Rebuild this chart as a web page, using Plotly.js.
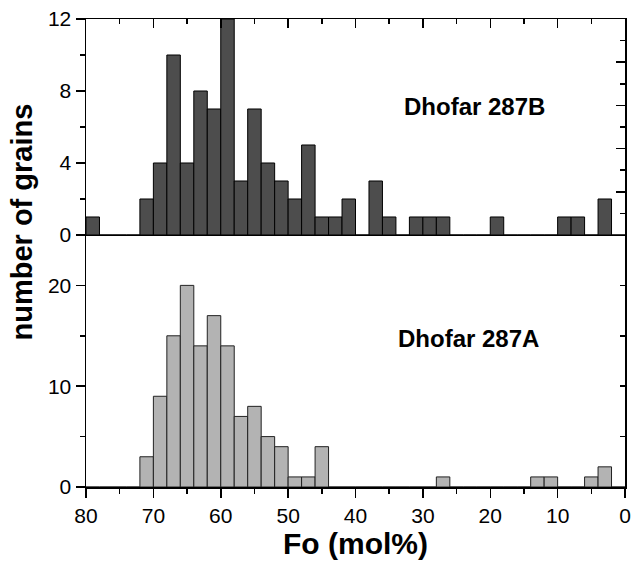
<!DOCTYPE html>
<html>
<head>
<meta charset="utf-8">
<script src="https://cdn.plot.ly/plotly-3.0.1.min.js"></script>
<style>html,body{margin:0;padding:0;background:#fff;}</style>
</head>
<body>
<div id="chart" style="width:631px;height:564px;"></div>
<script>
// Bin centres (Fo mol%), bins of width 2 from 80 down to 0
const binCenters = [79,77,75,73,71,69,67,65,63,61,59,57,55,53,51,49,47,45,43,41,
                    39,37,35,33,31,29,27,25,23,21,19,17,15,13,11,9,7,5,3,1];
// Dhofar 287B counts
const countsB = [1,0,0,0,2,4,10,4,8,7,12,3,7,4,3,2,5,1,1,2,
                 0,3,1,0,1,1,1,0,0,0,1,0,0,0,0,1,1,0,2,0];
// Dhofar 287A counts
const countsA = [0,0,0,0,3,9,15,20,14,17,14,7,8,5,4,1,1,4,0,0,
                 0,0,0,0,0,0,1,0,0,0,0,0,0,1,1,0,0,1,2,0];
const binWidth = 2;
const labelB = 'Dhofar 287B';
const labelA = 'Dhofar 287A';

const widths = binCenters.map(() => binWidth);
const font = 'Liberation Sans, Arial, sans-serif';

const traces = [
  {type:'bar', x:binCenters, y:countsB, width:widths, xaxis:'x2', yaxis:'y2',
   marker:{color:'#4d4d4d', line:{color:'#000', width:1}}, hoverinfo:'x+y'},
  {type:'bar', x:binCenters, y:countsA, width:widths, xaxis:'x', yaxis:'y',
   marker:{color:'#b3b3b3', line:{color:'#222', width:1}}, hoverinfo:'x+y'},
  {type:'scatter', x:[], y:[], xaxis:'x3', yaxis:'y2', showlegend:false},
  {type:'scatter', x:[], y:[], xaxis:'x', yaxis:'y3', showlegend:false},
  {type:'scatter', x:[], y:[], xaxis:'x2', yaxis:'y4', showlegend:false}
];

const split = 0.5385;
const axLine = {showline:true, linecolor:'#000', linewidth:1.5, zeroline:false, showgrid:false};

const layout = {
  width:631, height:564,
  margin:{l:86, r:6, t:19, b:77},
  paper_bgcolor:'#fff', plot_bgcolor:'#fff',
  showlegend:false, bargap:0,
  font:{family:font, color:'#000', size:21},
  xaxis:Object.assign({}, axLine, {
    domain:[0,1], anchor:'y', range:[80,0], tickmode:'linear', tick0:0, dtick:10,
    ticks:'outside', ticklen:9, tickwidth:1.5, tickcolor:'#000',
    minor:{dtick:5, tick0:0, ticks:'outside', ticklen:5, tickwidth:1.5, tickcolor:'#000', showgrid:false},
    tickfont:{size:21, family:font},
    title:{text:'<b>Fo (mol%)</b>', font:{size:30, family:font}, standoff:4}
  }),
  xaxis2:Object.assign({}, axLine, {
    domain:[0,1], anchor:'y2', range:[80,0], ticks:'', showticklabels:false
  }),
  xaxis3:Object.assign({}, axLine, {
    domain:[0,1], anchor:'y2', overlaying:'x2', side:'top', range:[80,0],
    tickmode:'linear', tick0:0, dtick:10, ticks:'inside', ticklen:9, tickwidth:1.5, tickcolor:'#000',
    minor:{dtick:5, tick0:0, ticks:'inside', ticklen:5, tickwidth:1.5, tickcolor:'#000', showgrid:false},
    showticklabels:false
  }),
  yaxis:Object.assign({}, axLine, {
    domain:[0, split], anchor:'x', range:[0,25], tickmode:'linear', tick0:0, dtick:10,
    ticks:'outside', ticklen:9, tickwidth:1.5, tickcolor:'#000',
    minor:{dtick:5, tick0:0, ticks:'outside', ticklen:5, tickwidth:1.5, tickcolor:'#000', showgrid:false},
    tickfont:{size:21, family:font}
  }),
  yaxis2:Object.assign({}, axLine, {
    domain:[split, 1], anchor:'x2', range:[0,12], tickmode:'linear', tick0:0, dtick:4,
    ticks:'outside', ticklen:9, tickwidth:1.5, tickcolor:'#000',
    minor:{dtick:2, tick0:0, ticks:'outside', ticklen:5, tickwidth:1.5, tickcolor:'#000', showgrid:false},
    tickfont:{size:21, family:font}
  }),
  yaxis3:Object.assign({}, axLine, {
    overlaying:'y', side:'right', anchor:'x', range:[0,25], tickmode:'linear', tick0:0, dtick:5,
    ticks:'inside', ticklen:5, tickwidth:1.5, tickcolor:'#000', showticklabels:false
  }),
  yaxis4:Object.assign({}, axLine, {
    overlaying:'y2', side:'right', anchor:'x2', range:[0,10], tickmode:'linear', tick0:0, dtick:2,
    ticks:'inside', ticklen:9, tickwidth:1.5, tickcolor:'#000',
    minor:{dtick:1, tick0:0, ticks:'inside', ticklen:5, tickwidth:1.5, tickcolor:'#000', showgrid:false},
    showticklabels:false
  }),
  annotations:[
    {text:'<b>'+labelB+'</b>', xref:'x2', yref:'y2', x:22.4, y:7.15, showarrow:false,
     font:{size:24, family:font}},
    {text:'<b>'+labelA+'</b>', xref:'x', yref:'y', x:23.2, y:14.7, showarrow:false,
     font:{size:24, family:font}},
    {text:'<b>number of grains</b>', xref:'paper', yref:'paper', x:-0.118, y:0.566,
     xanchor:'center', yanchor:'middle', textangle:-90, showarrow:false,
     font:{size:29, family:font}}
  ]
};

Plotly.newPlot('chart', traces, layout, {displayModeBar:false, staticPlot:true});
</script>
</body>
</html>
